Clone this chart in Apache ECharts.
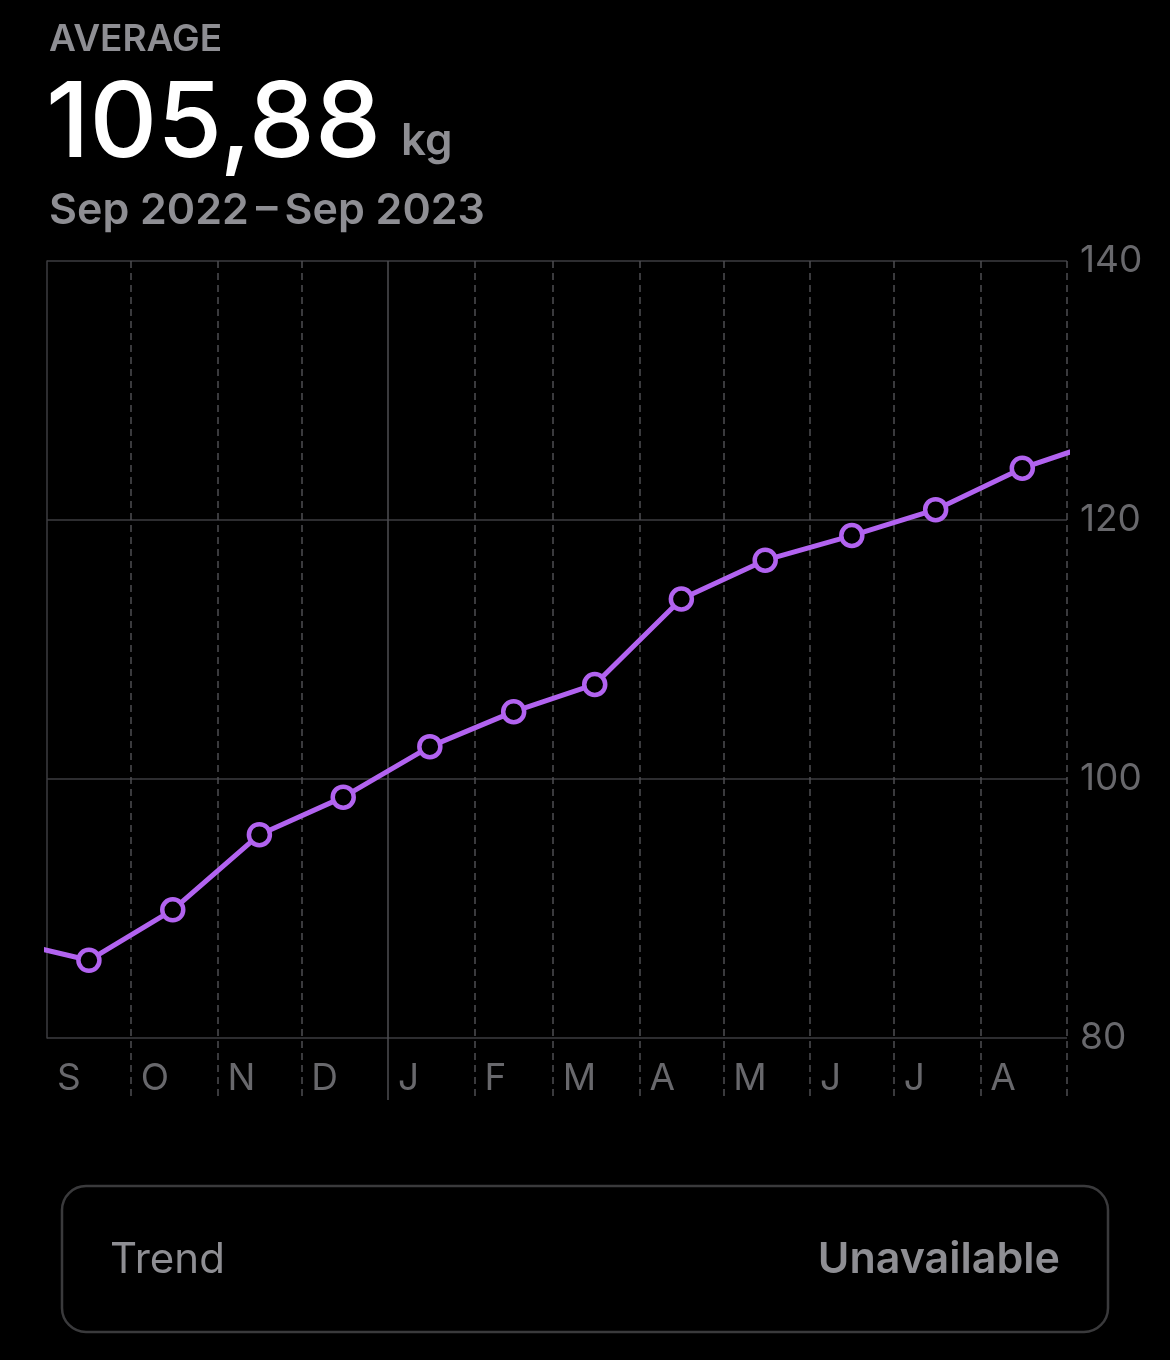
<!DOCTYPE html>
<html>
<head>
<meta charset="utf-8">
<script src="https://cdn.jsdelivr.net/npm/echarts@6/dist/echarts.min.js"></script>
<style>
html,body{margin:0;padding:0;background:#000;}
#chart{width:1170px;height:1360px;}
</style>
</head>
<body>
<div id="chart"></div>
<script>
// ---- data ----
const pointDates = ['2022-08-16','2022-09-16','2022-10-16','2022-11-16','2022-12-16','2023-01-16','2023-02-15','2023-03-16','2023-04-16','2023-05-16','2023-06-16','2023-07-16','2023-08-16','2023-09-15'];
const weights = [87.6, 86.0, 89.9, 95.7, 98.6, 102.5, 105.2, 107.3, 113.9, 116.9, 118.8, 120.8, 124.0, 126.2];
const monthStarts = ['2022-09-01','2022-10-01','2022-11-01','2022-12-01','2023-01-01','2023-02-01','2023-03-01','2023-04-01','2023-05-01','2023-06-01','2023-07-01','2023-08-01','2023-09-01'];
const monthLetters = ['S','O','N','D','J','F','M','A','M','J','J','A'];
const yearBoundary = '2023-01-01';
const yTicks = [80, 100, 120, 140];
const headerLabel = 'AVERAGE';
const averageValue = '105,88';
const unitLabel = 'kg';
const rangeLabel = 'Sep 2022\u2009\u2013\u2009Sep 2023';
const trendLabel = 'Trend';
const trendValue = 'Unavailable';

function ts(s){const p=s.split('-').map(Number);return Date.UTC(p[0],p[1]-1,p[2]);}

const xMin = ts(monthStarts[0]);
const xMax = ts(monthStarts[monthStarts.length-1]);
const monthTs = monthStarts.map(ts);
const dashedTs = monthTs.filter((t,i)=> i>0 && monthStarts[i]!==yearBoundary);
const labelTs = monthTs.slice(0, monthLetters.length);

const PURPLE = '#B263F0';
const GRAY = '#8E8E93';
const AXISGRAY = '#68686C';
const FONT = 'Inter, "Noto Sans", sans-serif';

const chart = echarts.init(document.getElementById('chart'), null, {renderer:'canvas'});
chart.setOption({
  backgroundColor:'#000',
  animation:false,
  grid:[
    {left:47, right:103, top:261, bottom:322, containLabel:false},
    {left:47, right:103, top:261, bottom:260, containLabel:false}
  ],
  xAxis:[
    {type:'value', gridIndex:0, min:xMin, max:xMax,
      axisLine:{show:false}, axisTick:{show:false}, axisLabel:{show:false}, splitLine:{show:false}},
    {type:'value', gridIndex:1, min:xMin, max:xMax, position:'bottom',
      axisLine:{show:false},
      axisTick:{show:false, customValues:dashedTs},
      splitLine:{show:true, lineStyle:{color:'#4E4E52', width:1.5, type:[7,5]}},
      axisLabel:{show:true, inside:true, customValues:labelTs, margin:3, align:'left',
        padding:[0,0,0,10], color:AXISGRAY, fontSize:37, fontFamily:FONT, verticalAlign:'bottom',
        formatter:function(v){const i=labelTs.indexOf(v);return i>=0?monthLetters[i]:'';},
        hideOverlap:false, showMinLabel:true, showMaxLabel:true}},
    {type:'value', gridIndex:1, min:xMin, max:xMax, position:'top',
      axisLine:{show:false}, axisTick:{show:false, customValues:[ts(yearBoundary)]},
      axisLabel:{show:false},
      splitLine:{show:true, lineStyle:{color:'#4E4E52', width:1.5, type:'solid'}}}
  ],
  yAxis:[
    {type:'value', gridIndex:0, position:'right', min:yTicks[0], max:yTicks[yTicks.length-1], interval:20,
      axisLine:{show:false}, axisTick:{show:false},
      axisLabel:{color:AXISGRAY, fontSize:37, fontFamily:FONT, margin:13},
      splitLine:{show:true, lineStyle:{color:'#3C3C40', width:1.5}}},
    {type:'value', gridIndex:0, position:'left', min:yTicks[0], max:yTicks[yTicks.length-1],
      axisLine:{show:true, lineStyle:{color:'#3C3C40', width:1.5}}, axisTick:{show:false},
      axisLabel:{show:false}, splitLine:{show:false}},
    {type:'value', gridIndex:1, show:false}
  ],
  series:[{
    type:'line', xAxisIndex:0, yAxisIndex:0, clip:true,
    data: pointDates.map((d,i)=>[ts(d), weights[i]]),
    symbol:'circle', symbolSize:21,
    lineStyle:{color:PURPLE, width:5},
    itemStyle:{color:'#000', borderColor:PURPLE, borderWidth:4.5},
    z:5
  }],
  graphic:[
    {type:'text', left:49, top:21, style:{text:headerLabel, fill:GRAY, font:'600 37px '+FONT}},
    {type:'text', left:46, top:73, style:{text:averageValue, fill:'#FFFFFF', font:'500 105px '+FONT}},
    {type:'text', left:401, top:120, style:{text:unitLabel, fill:GRAY, font:'600 44px '+FONT}},
    {type:'text', left:49, top:190, style:{text:rangeLabel, fill:GRAY, font:'600 43px '+FONT}},
    {type:'rect', shape:{x:62, y:1186, width:1046, height:146, r:24},
      style:{fill:'#000', stroke:'#3A3A3C', lineWidth:2.5}},
    {type:'text', x:110, y:1260, style:{text:trendLabel, fill:GRAY, font:'400 42px '+FONT, verticalAlign:'middle', align:'left'}},
    {type:'text', x:1060, y:1260, style:{text:trendValue, fill:GRAY, font:'600 43px '+FONT, verticalAlign:'middle', align:'right'}}
  ]
});
</script>
</body>
</html>
